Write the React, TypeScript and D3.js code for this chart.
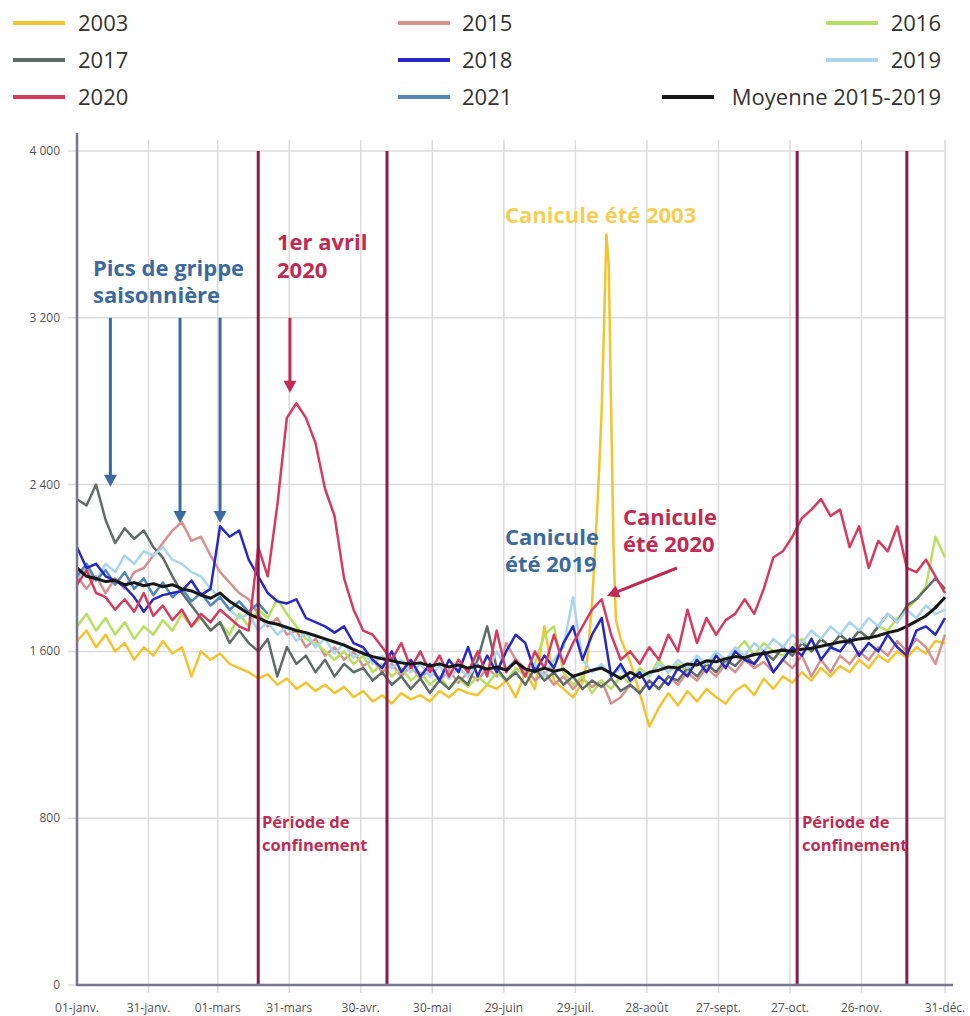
import React from 'react';
import * as d3 from 'd3';

const W = 970;
const H = 1016;

// ---- Data (deaths per day) ----
const DAYS = d3.range(0, 365, 4);

const DAYS_2003 = [
  ...d3.range(0, 213, 4),
  214, 216, 218, 219, 220, 221, 222, 223, 224, 225, 226, 228,
  ...d3.range(232, 365, 4),
];
const V2003 = [
  1650, 1700, 1620, 1680, 1600, 1640, 1560, 1620, 1580, 1650,
  1590, 1620, 1480, 1600, 1560, 1590, 1540, 1520, 1500, 1470,
  1490, 1440, 1470, 1420, 1450, 1410, 1440, 1400, 1430, 1380,
  1410, 1360, 1390, 1350, 1400, 1370, 1390, 1360, 1410, 1380,
  1420, 1400, 1390, 1440, 1420, 1460, 1380, 1500, 1420, 1720,
  1460, 1420, 1380, 1450,
  1560, 1830, 2250, 2480, 2750, 3150, 3600, 3450, 2750, 2100, 1750, 1660,
  1550, 1400, 1240, 1330, 1400, 1340, 1410, 1360, 1420, 1380,
  1350, 1410, 1440, 1390, 1470, 1420, 1480, 1450, 1500, 1460,
  1520, 1480, 1530, 1500, 1560, 1520, 1580, 1550, 1600, 1570,
  1620, 1590, 1650, 1640,
];
const V2015 = [
  1960, 1900, 1960, 1880, 1950, 1900, 1980, 2000, 2060, 2120,
  2180, 2220, 2130, 2150, 2060, 1980, 1930, 1880, 1850, 1780,
  1720, 1760, 1680, 1700, 1620, 1660, 1580, 1620, 1560, 1600,
  1530, 1560, 1500, 1540, 1480, 1530, 1470, 1520, 1460, 1510,
  1450, 1500, 1460, 1520, 1480, 1640, 1560, 1520, 1460, 1500,
  1440, 1480, 1420, 1470, 1430, 1460, 1350, 1380, 1440, 1400,
  1460, 1420, 1480, 1440, 1500, 1460, 1520, 1480, 1540, 1500,
  1560, 1520, 1550, 1500, 1560, 1520, 1580, 1480, 1560, 1500,
  1580, 1540, 1600, 1560, 1620, 1580, 1650, 1600, 1660, 1620,
  1540, 1680,
];
const V2016 = [
  1720, 1780, 1700, 1760, 1680, 1740, 1660, 1720, 1680, 1750,
  1700, 1780, 1720, 1760, 1700, 1740, 1680, 1780, 1720, 1800,
  1760, 1850, 1780, 1720, 1660, 1640, 1600, 1560, 1600, 1540,
  1580, 1500, 1540, 1480, 1520, 1460, 1500, 1440, 1480, 1420,
  1470, 1430, 1480, 1440, 1500, 1460, 1520, 1480, 1540, 1680,
  1720, 1500, 1440, 1480, 1400, 1460, 1420, 1480, 1450, 1520,
  1480, 1560, 1500, 1540, 1500, 1560, 1520, 1580, 1540, 1600,
  1650, 1580, 1640, 1600, 1580, 1620, 1660, 1600, 1660, 1620,
  1680, 1640, 1700, 1660, 1720, 1700, 1760, 1800, 1850, 1910,
  2150, 2050,
];
const V2017 = [
  2330, 2300, 2400, 2230, 2120, 2190, 2140, 2180, 2100, 2050,
  1960, 1880, 1820, 1760, 1700, 1740, 1640, 1700, 1640, 1600,
  1660, 1480, 1620, 1540, 1580, 1500, 1560, 1480, 1540, 1500,
  1520, 1460, 1500, 1440, 1480, 1420, 1470, 1400, 1460, 1420,
  1480, 1440, 1560, 1720, 1520, 1460, 1500, 1440, 1520, 1460,
  1500, 1440, 1480, 1420, 1460, 1430, 1470, 1410, 1440, 1400,
  1460, 1420, 1480, 1460, 1520, 1480, 1540, 1500, 1560, 1530,
  1580, 1540, 1600, 1560, 1620, 1580, 1640, 1600, 1660, 1620,
  1680, 1640, 1700, 1660, 1720, 1780, 1740, 1820, 1850, 1900,
  1950, 1900,
];
const V2018 = [
  2100, 2000, 2020, 1960, 1940, 1910, 1860, 1790, 1850, 1870,
  1880, 1890, 1940, 1870, 1900, 2200, 2150, 2180, 2040, 1960,
  1880, 1840, 1830, 1850, 1760, 1740, 1720, 1690, 1720, 1640,
  1620, 1560, 1520, 1600, 1500, 1560, 1480, 1540, 1460, 1560,
  1500, 1620, 1480, 1580, 1500, 1600, 1680, 1640, 1500, 1580,
  1520, 1640, 1720, 1560, 1680, 1760, 1480, 1540, 1460, 1500,
  1420, 1480, 1440, 1520, 1480, 1560, 1500, 1580, 1520, 1600,
  1560, 1540, 1600, 1500, 1560, 1620, 1580, 1660, 1560, 1620,
  1600, 1660, 1580, 1640, 1600, 1680, 1620, 1580, 1700, 1720,
  1680, 1760,
];
const V2019 = [
  1950, 2000, 1940, 2020, 1980, 2060, 2020, 2080, 2060, 2100,
  2040, 2020, 1980, 1960, 1900, 1860, 1800, 1760, 1780, 1700,
  1740, 1680, 1720, 1650, 1690, 1620, 1660, 1590, 1640, 1570,
  1600, 1540, 1580, 1520, 1560, 1500, 1540, 1480, 1530, 1470,
  1520, 1480, 1540, 1500, 1600, 1520, 1560, 1500, 1540, 1480,
  1560, 1620, 1860, 1560, 1500, 1540, 1480, 1520, 1460, 1500,
  1480, 1540, 1500, 1560, 1520, 1580, 1540, 1600, 1560, 1620,
  1580, 1640, 1600, 1660, 1620, 1680, 1640, 1700, 1660, 1720,
  1680, 1740, 1700, 1760, 1720, 1780, 1740, 1800, 1760, 1820,
  1780, 1800,
];
const V2020 = [
  1920, 1990, 1880, 1860, 1800, 1850, 1790, 1880, 1770, 1820,
  1750, 1800, 1720, 1780, 1740, 1800, 1760, 1720, 1700, 2100,
  1960, 2300, 2720, 2790, 2720, 2600, 2380, 2250, 1950, 1800,
  1700, 1680, 1620, 1560, 1640, 1520, 1600, 1500, 1580, 1480,
  1560, 1500, 1600, 1480, 1700, 1500, 1560, 1480, 1600, 1520,
  1680, 1540, 1640, 1720, 1800, 1850, 1680, 1560, 1600, 1540,
  1620, 1560, 1680, 1600, 1800, 1640, 1760, 1680, 1750, 1780,
  1850, 1780, 1900, 2050, 2080, 2150, 2240, 2280, 2330, 2250,
  2280, 2100, 2200, 2000, 2130, 2080, 2200, 2000, 1980, 2040,
  1960, 1880,
];
const V2021 = [
  1960, 2020, 1940, 1990, 1920, 1980, 1900, 1950, 1870, 1930,
  1860, 1900, 1840, 1880, 1820, 1860, 1800, 1840, 1790, 1830,
  1780,
];
const VMEAN = [
  2000, 1960, 1950, 1935, 1940, 1920, 1930, 1915, 1925, 1910,
  1920, 1900, 1890, 1870, 1855, 1880, 1840, 1810, 1780, 1760,
  1740, 1730, 1715, 1700, 1690, 1675, 1660, 1645, 1630, 1610,
  1590, 1575, 1565, 1555, 1545, 1540, 1545, 1530, 1540, 1525,
  1535, 1520, 1530, 1515, 1525, 1510, 1550, 1515, 1505, 1520,
  1505, 1515, 1480, 1495, 1510, 1520, 1495, 1470, 1500, 1475,
  1500, 1510, 1525, 1520, 1540, 1535, 1555, 1550, 1565, 1575,
  1570, 1585, 1590, 1600, 1605, 1600, 1610, 1615, 1625, 1635,
  1645, 1650, 1660, 1665, 1675, 1690, 1700, 1720, 1745, 1770,
  1810, 1860,
];

const Y_TICKS = [0, 800, 1600, 2400, 3200, 4000];
const X_TICK_DAYS = [0, 30, 59, 89, 119, 149, 179, 209, 239, 269, 299, 329, 364];
const X_TICK_LABELS = [
  '01-janv.', '31-janv.', '01-mars', '31-mars', '30-avr.', '30-mai', '29-juin',
  '29-juil.', '28-août', '27-sept.', '27-oct.', '26-nov.', '31-déc.',
];
const LOCKDOWN_DAYS = [76, 130, 302, 348];

const SERIES = [
  { name: '2003', color: '#f3c42f', days: DAYS_2003, values: V2003, w: 2.5 },
  { name: '2015', color: '#d6918f', days: DAYS, values: V2015, w: 2.5 },
  { name: '2016', color: '#b8e060', days: DAYS, values: V2016, w: 2.5 },
  { name: '2017', color: '#5f6c67', days: DAYS, values: V2017, w: 2.5 },
  { name: '2019', color: '#a9d6ec', days: DAYS, values: V2019, w: 2.5 },
  { name: '2021', color: '#5089b9', days: DAYS, values: V2021, w: 2.5 },
  { name: '2018', color: '#2828c8', days: DAYS, values: V2018, w: 2.5 },
  { name: '2020', color: '#d83a5e', days: DAYS, values: V2020, w: 2.5 },
  { name: 'Moyenne 2015-2019', color: '#161616', days: DAYS, values: VMEAN, w: 3 },
];

const LEGEND_ROWS = [
  ['2003', '2015', '2016'],
  ['2017', '2018', '2019'],
  ['2020', '2021', 'Moyenne 2015-2019'],
];

const x = d3.scaleLinear().domain([0, 364]).range([77, 945]);
const y = d3.scaleLinear().domain([0, 4000]).range([985, 151]);

const fmtY = (v: number) =>
  v >= 1000 ? `${Math.floor(v / 1000)} ${String(v % 1000).padStart(3, '0')}` : String(v);

function Arrow({ x1, y1, x2, y2, color, width = 3, head = 12, headW = 13 }: any) {
  const dx = x2 - x1;
  const dy = y2 - y1;
  const len = Math.sqrt(dx * dx + dy * dy);
  const ux = dx / len;
  const uy = dy / len;
  const bx = x2 - ux * head;
  const by = y2 - uy * head;
  const nx = -uy;
  const ny = ux;
  const pts = [
    [x2, y2],
    [bx + nx * headW / 2, by + ny * headW / 2],
    [bx - nx * headW / 2, by - ny * headW / 2],
  ];
  return (
    <g>
      <line x1={x1} y1={y1} x2={bx + ux * 2} y2={by + uy * 2} stroke={color} strokeWidth={width} />
      <polygon points={pts.map((p) => p.join(',')).join(' ')} fill={color} />
    </g>
  );
}

export default function App() {
  const colorOf = (n: string) => SERIES.find((s) => s.name === n)!.color;
  const line = d3
    .line<[number, number]>()
    .x((d) => x(d[0]))
    .y((d) => y(d[1]));

  const font = "'Open Sans', 'DejaVu Sans', sans-serif";
  const blue = '#3b6a9e';
  const crimson = '#c22a52';
  const maroon = '#8a1d48';

  const legendLineX = [13, 398, 826];
  const legendTextX = [78, 462, 941];
  const legendY = [23, 60, 97];

  return (
    <svg
      width={W}
      height={H}
      style={{ position: 'absolute', left: 0, top: 0, background: '#fff' }}
      fontFamily={font}
    >
      <rect x={0} y={0} width={W} height={H} fill="#fff" />

      {/* Legend */}
      {LEGEND_ROWS.map((row, ri) =>
        row.map((name, ci) => {
          const isMean = name.startsWith('Moyenne');
          const lx = isMean ? 662 : legendLineX[ci];
          return (
            <g key={name}>
              <line
                x1={lx}
                x2={lx + 52}
                y1={legendY[ri]}
                y2={legendY[ri]}
                stroke={colorOf(name)}
                strokeWidth={4}
              />
              <text
                x={legendTextX[ci]}
                y={legendY[ri] + 8}
                fontSize={22}
                fill="#333"
                textAnchor={ci === 2 ? 'end' : 'start'}
              >
                {name}
              </text>
            </g>
          );
        })
      )}

      {/* Grid */}
      {Y_TICKS.map((v) => (
        <g key={'gy' + v}>
          <line x1={68} x2={945} y1={y(v)} y2={y(v)} stroke="#dcdcdc" strokeWidth={1.5} />
          <text x={60} y={y(v) + 4} fontSize={12} fill="#555" textAnchor="end">
            {fmtY(v)}
          </text>
        </g>
      ))}
      {X_TICK_DAYS.map((d, i) => (
        <g key={'gx' + d}>
          {i > 0 && (
            <line x1={x(d)} x2={x(d)} y1={140} y2={993} stroke="#dcdcdc" strokeWidth={1.5} />
          )}
          <text x={x(d)} y={1012} fontSize={12} fill="#555" textAnchor="middle">
            {X_TICK_LABELS[i]}
          </text>
        </g>
      ))}

      {/* Series */}
      {SERIES.map((s) => (
        <path
          key={s.name}
          d={line(s.values.map((v, i) => [s.days[i], v]) as [number, number][]) || ''}
          fill="none"
          stroke={s.color}
          strokeWidth={s.w}
          strokeLinejoin="round"
        />
      ))}

      {/* Lockdown lines */}
      {LOCKDOWN_DAYS.map((d) => (
        <line key={'ld' + d} x1={x(d)} x2={x(d)} y1={y(4000)} y2={y(0)} stroke={maroon} strokeWidth={3} />
      ))}

      {/* Axes */}
      <line x1={77} x2={77} y1={133} y2={986} stroke="#787591" strokeWidth={2.5} />
      <line x1={77} x2={953} y1={985} y2={985} stroke="#787591" strokeWidth={2.5} />

      {/* Annotations */}
      <g fontWeight={700} fontSize={22}>
        <text x={93} y={276} fill={blue}>Pics de grippe</text>
        <text x={93} y={303} fill={blue}>saisonnière</text>
        <text x={277} y={250} fill={crimson}>1er avril</text>
        <text x={277} y={278} fill={crimson}>2020</text>
        <text x={505} y={223} fill="#f5cf55">Canicule été 2003</text>
        <text x={505} y={545} fill={blue}>Canicule</text>
        <text x={505} y={572} fill={blue}>été 2019</text>
        <text x={623} y={525} fill={crimson}>Canicule</text>
        <text x={623} y={552} fill={crimson}>été 2020</text>
      </g>
      <g fontWeight={700} fontSize={16.5} fill={crimson}>
        <text x={262} y={828}>Période de</text>
        <text x={262} y={851}>confinement</text>
        <text x={802} y={828}>Période de</text>
        <text x={802} y={851}>confinement</text>
      </g>

      <Arrow x1={x(14)} y1={y(3200)} x2={x(14)} y2={y(2390)} color={blue} />
      <Arrow x1={x(43.2)} y1={y(3200)} x2={x(43.2)} y2={y(2216)} color={blue} />
      <Arrow x1={x(60)} y1={y(3200)} x2={x(60)} y2={y(2216)} color={blue} />
      <Arrow x1={x(89.3)} y1={y(3200)} x2={x(89.3)} y2={y(2840)} color={crimson} />
      <Arrow x1={x(251.6)} y1={y(2000)} x2={x(222.3)} y2={y(1866)} color={crimson} />
    </svg>
  );
}
